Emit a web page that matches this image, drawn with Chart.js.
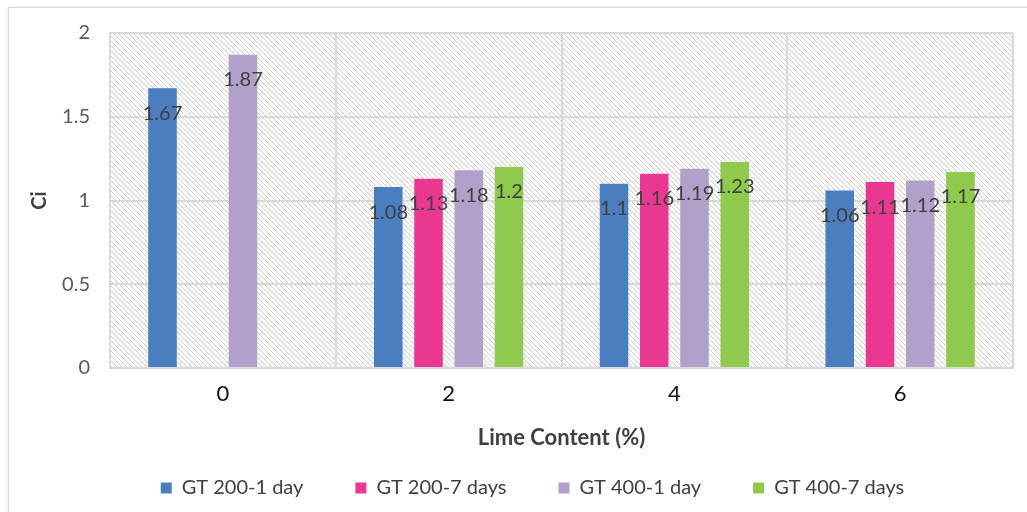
<!DOCTYPE html>
<html lang="en">
<head>
<meta charset="UTF-8">
<title>Ci vs Lime Content</title>
<script src="https://cdn.jsdelivr.net/npm/chart.js"></script>
<style>
    html, body { margin: 0; padding: 0; background: #fff; }
    .frame {
        position: absolute; left: 8px; top: 7px; width: 1030px; height: 520px;
        border: 1px solid #d9d9d9; box-shadow: 0 0 3px #e6e6e6;
    }
    #myChart { position: absolute; left: 0; top: 0; }
</style>
</head>
<body>
<div class="frame"></div>
<canvas id="myChart" width="1027" height="512"></canvas>

<script>
    // data
    var categories = ['0', '2', '4', '6'];
    var seriesNames = ['GT 200-1 day', 'GT 200-7 days', 'GT 400-1 day', 'GT 400-7 days'];
    var gt200day1 = [1.67, 1.08, 1.1, 1.06];
    var gt200day7 = [null, 1.13, 1.16, 1.11];
    var gt400day1 = [1.87, 1.18, 1.19, 1.12];
    var gt400day7 = [null, 1.2, 1.23, 1.17];
    var yTicks = [0, 0.5, 1, 1.5, 2];

    var colors = ['#4a7ebf', '#e8388f', '#b1a0c9', '#8fc94e'];
    var font = 'Lato, "Open Sans", sans-serif';

    // diagonal hatch for the plot area
    function makeHatch() {
        var c = document.createElement('canvas');
        c.width = 5; c.height = 5;
        var g = c.getContext('2d');
        g.fillStyle = '#ffffff';
        g.fillRect(0, 0, 5, 5);
        g.strokeStyle = '#cdcdcd';
        g.lineWidth = 1;
        g.beginPath();
        g.moveTo(-1, -1); g.lineTo(6, 6);
        g.moveTo(-1, 4); g.lineTo(1, 6);
        g.moveTo(4, -1); g.lineTo(6, 1);
        g.stroke();
        return g.createPattern(c, 'repeat');
    }

    var hatchPlugin = {
        id: 'hatch',
        beforeDraw: function (chart) {
            var a = chart.chartArea, ctx = chart.ctx;
            ctx.save();
            ctx.fillStyle = makeHatch();
            ctx.fillRect(a.left, a.top, a.right - a.left, a.bottom - a.top);
            ctx.restore();
        }
    };

    // value labels just below each bar top
    var labelPlugin = {
        id: 'barLabels',
        afterDatasetsDraw: function (chart) {
            var ctx = chart.ctx;
            ctx.save();
            ctx.font = '20px ' + font;
            ctx.fillStyle = '#404040';
            ctx.textAlign = 'center';
            ctx.textBaseline = 'middle';
            chart.data.datasets.forEach(function (ds, i) {
                chart.getDatasetMeta(i).data.forEach(function (bar, j) {
                    if (ds.data[j] == null) return;
                    ctx.fillText(String(ds.data[j]), bar.x, bar.y + 25);
                });
            });
            ctx.restore();
        }
    };

    var allSeries = [gt200day1, gt200day7, gt400day1, gt400day7];
    var datasets = allSeries.map(function (d, i) {
        return {
            label: seriesNames[i],
            data: d,
            backgroundColor: colors[i],
            categoryPercentage: 0.713,
            barPercentage: 0.71
        };
    });

    var ctx = document.getElementById('myChart').getContext('2d');
    var myChart = new Chart(ctx, {
        type: 'bar',
        data: { labels: categories, datasets: datasets },
        plugins: [hatchPlugin, labelPlugin],
        options: {
            responsive: false,
            animation: false,
            layout: { padding: { left: 52, right: 14, top: 33, bottom: 4 } },
            plugins: {
                tooltip: { enabled: false },
                legend: {
                    position: 'bottom',
                    labels: {
                        boxWidth: 11, boxHeight: 11, padding: 52,
                        color: '#404040',
                        font: { family: font, size: 20 }
                    }
                }
            },
            scales: {
                x: {
                    grid: { color: '#d9d9d9', lineWidth: 2, drawTicks: false },
                    border: { color: '#d9d9d9', width: 2 },
                    ticks: { color: '#111', padding: 13, font: { family: font, size: 22 } },
                    title: {
                        display: true, text: 'Lime Content (%)', color: '#404040',
                        font: { family: font, size: 22, weight: 'bold' },
                        padding: { top: 0, bottom: -25.2 }
                    },
                    afterFit: function (s) { s.height = 58; }
                },
                y: {
                    min: 0, max: 2,
                    afterBuildTicks: function (s) {
                        s.ticks = yTicks.map(function (v) { return { value: v }; });
                    },
                    grid: { color: '#d9d9d9', lineWidth: 2, drawTicks: false },
                    border: { color: '#d9d9d9', width: 2 },
                    ticks: {
                        color: '#595959', padding: 20, font: { family: font, size: 20 },
                        callback: function (v) { return String(v); }
                    },
                    title: {
                        display: true, text: 'Ci', color: '#404040',
                        font: { family: font, size: 20, weight: 'bold' },
                        padding: { top: -24, bottom: 0 }
                    },
                    afterFit: function (s) { s.width = 58; }
                }
            }
        }
    });
</script>
</body>
</html>
